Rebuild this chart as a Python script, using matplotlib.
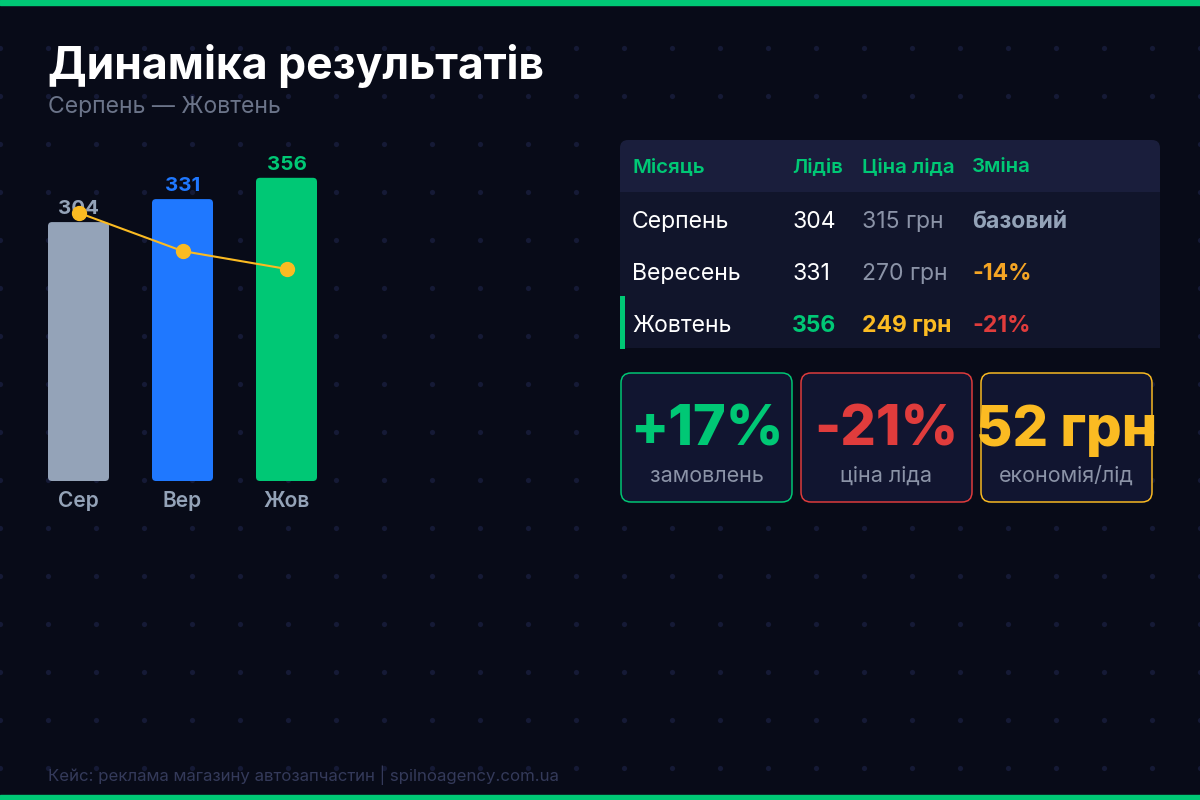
import matplotlib
matplotlib.use("Agg")
import matplotlib.pyplot as plt
from matplotlib.patches import FancyBboxPatch, Rectangle
import numpy as np

plt.rcParams['font.family'] = ['Inter', 'DejaVu Sans']

# data
months_short = ['Сер', 'Вер', 'Жов']
months_full = ['Серпень', 'Вересень', 'Жовтень']
leads = [304, 331, 356]
cpl = [315, 270, 249]
change_labels = ['базовий', '-14%', '-21%']
headers = ['Місяць', 'Лідів', 'Ціна ліда', 'Зміна']
kpi_values = ['+17%', '-21%', '52 грн']
kpi_labels = ['замовлень', 'ціна ліда', 'економія/лід']

BG = '#080b18'
GREEN = '#00c875'
BLUE = '#1f78ff'
SLATE = '#94a3b8'
AMBER = '#fbbb22'
ORANGE = '#f5a524'
RED = '#e03c3c'
GRAY = '#8b93a7'
bar_colors = [SLATE, BLUE, GREEN]

PT = 0.72  # px -> pt at dpi 100

fig = plt.figure(figsize=(12, 8), dpi=100, facecolor=BG)

# background layer in pixel coords
bg = fig.add_axes([0, 0, 1, 1], zorder=0)
bg.set_xlim(0, 1200)
bg.set_ylim(800, 0)
bg.axis('off')
bg.set_facecolor(BG)

gx, gy = np.meshgrid(np.arange(0, 1201, 48), np.arange(0, 801, 48))
bg.scatter(gx.ravel(), gy.ravel(), s=14, color='#151a36', lw=0, zorder=0)

bg.add_patch(Rectangle((0, 0), 1200, 5, color=GREEN, zorder=5))
bg.add_patch(Rectangle((0, 795), 1200, 5, color=GREEN, zorder=5))

bg.text(48, 79, 'Динаміка результатів', color='white', fontsize=44.5 * PT,
        fontweight='bold', va='baseline', ha='left')
bg.text(48, 113, 'Серпень — Жовтень', color='#6b7489', fontsize=23 * PT,
        va='baseline', ha='left')

# table
bg.add_patch(FancyBboxPatch((620, 140), 540, 60, boxstyle='round,pad=0,rounding_size=8',
                            fc='#1a1e3c', ec='none', zorder=1))
bg.add_patch(Rectangle((620, 192), 540, 156, fc='#11152b', ec='none', zorder=1))
bg.add_patch(Rectangle((620, 296), 5, 53, fc=GREEN, ec='none', zorder=2))

col_x = [632, 792, 862, 972]
for x, h in zip(col_x, headers):
    bg.text(x, 172.5, h, color=GREEN, fontsize=20.5 * PT, fontweight='semibold',
            va='baseline', ha='left', zorder=3)

row_styles = [
    [('white', 'normal'), ('white', 'normal'), (GRAY, 'normal'), (SLATE, 'bold')],
    [('white', 'normal'), ('white', 'normal'), (GRAY, 'normal'), (ORANGE, 'bold')],
    [('white', 'normal'), (GREEN, 'bold'), (AMBER, 'bold'), (RED, 'bold')],
]
for r in range(len(months_full)):
    y = 228 + 52 * r
    cells = [months_full[r], str(leads[r]), f'{cpl[r]} грн', change_labels[r]]
    for c, (x, txt) in enumerate(zip(col_x, cells)):
        col, wt = row_styles[r][c]
        bg.text(x, y, txt, color=col, fontsize=23 * PT, fontweight=wt,
                va='baseline', ha='left', zorder=3)

# kpi cards
card_x = [621, 801, 981]
card_ec = [GREEN, RED, AMBER]
for x, ec, val, lab in zip(card_x, card_ec, kpi_values, kpi_labels):
    bg.add_patch(FancyBboxPatch((x, 373), 171, 129, boxstyle='round,pad=0,rounding_size=10',
                                fc='#111530', ec=ec, lw=1.5 * PT, zorder=1))
    bg.text(x + 85.5, 446, val, color=ec, fontsize=56 * PT, fontweight='heavy',
            va='baseline', ha='center', zorder=4)
    bg.text(x + 85.5, 482, lab, color=GRAY, fontsize=21.5 * PT,
            va='baseline', ha='center', zorder=4)

bg.text(48, 781, 'Кейс: реклама магазину автозапчастин | spilnoagency.com.ua',
        color='#343a5a', fontsize=16.8 * PT, va='baseline', ha='left')

# bar chart
ax = fig.add_axes([26.5 / 1200, (800 - 481) / 800, 312 / 1200, 356 / 800], zorder=2)
ax.set_facecolor('none')
ax.set_xlim(-0.5, 2.5)
ax.set_ylim(0, 418)
ax.axis('off')

bw = 61 / 104
aspect = (418 / 356) / (3 / 312)
for i, v in enumerate(leads):
    ax.add_patch(FancyBboxPatch((i - bw / 2, 0), bw, v,
                                boxstyle='round,pad=0,rounding_size=%f' % (4 * 3 / 312),
                                mutation_aspect=aspect, fc=bar_colors[i], ec='none', zorder=1))
    ax.annotate(str(v), (i, v), xytext=(0, 8 * PT), textcoords='offset points',
                ha='center', va='baseline', color=bar_colors[i],
                fontsize=20.5 * PT, fontweight='bold', zorder=2)
    ax.annotate(months_short[i], (i, 0), xytext=(0, -26 * PT), textcoords='offset points',
                ha='center', va='baseline', color=SLATE,
                fontsize=21 * PT, fontweight='semibold', annotation_clip=False)

ax.plot(range(len(cpl)), cpl, color=AMBER, lw=1.5, marker='o', ms=10,
        mec=AMBER, mfc=AMBER, zorder=3, clip_on=False)

fig.savefig('out.png', dpi=100, facecolor=BG)
